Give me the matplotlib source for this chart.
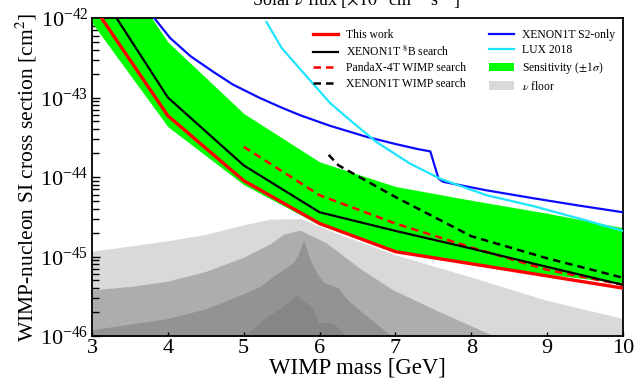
import numpy as np
import matplotlib
matplotlib.use("Agg")
import matplotlib.pyplot as plt
from matplotlib.lines import Line2D
from matplotlib.patches import Patch

plt.rcParams["font.family"] = ["Liberation Serif", "DejaVu Serif"]
plt.rcParams["mathtext.fontset"] = "stix"

# ---- data (mass in GeV, cross section in cm^2) ----
mass = [3, 4, 5, 6, 7, 8, 9, 10]
this_work = [1.5e-42, 5.9e-44, 9.0e-45, 2.6e-45, 1.15e-45, 8.1e-46, 5.7e-46, 4.0e-46]
xe1t_8b = [3.0e-42, 1.0e-43, 1.4e-44, 3.6e-45, 2.1e-45, 1.26e-45, 7.4e-46, 4.4e-46]
sens_lo = [8.7e-43, 4.3e-44, 8.0e-45, 2.5e-45, 1.15e-45, 8.3e-46, 6.0e-46, 4.6e-46]
sens_hi = [1.3e-41, 5.0e-43, 6.3e-44, 1.55e-44, 7.6e-45, 5.1e-45, 3.5e-45, 2.3e-45]

pandax_m = [5, 6, 7, 8, 9, 10]
pandax = [2.4e-44, 5.9e-45, 2.6e-45, 1.3e-45, 6.8e-46, 4.4e-46]

xe1t_wimp_m = [6.12, 6.25, 7, 8, 9, 10]
xe1t_wimp = [1.9e-44, 1.4e-44, 5.6e-45, 1.8e-45, 9.5e-46, 5.4e-46]

s2_m = [3.7, 3.82, 4.03, 4.3, 4.6, 4.86, 5.2, 5.48, 5.74, 6.14, 6.62, 7.0, 7.3,
        7.46, 7.52, 7.57, 7.63, 7.94, 8.2, 8.82, 9.4, 10.0]
s2 = [1.5e-42, 1.0e-42, 5.6e-43, 3.3e-43, 2.1e-43, 1.45e-43, 1.0e-43, 7.6e-44,
      6.0e-44, 4.4e-44, 3.2e-44, 2.6e-44, 2.24e-44, 2.1e-44, 1.35e-44, 9.5e-45,
      8.7e-45, 7.6e-45, 6.8e-45, 5.4e-45, 4.4e-45, 3.6e-45]

lux_m = [5.3, 5.5, 5.87, 6.14, 6.4, 6.75, 7.19, 7.59, 8.2, 8.82, 9.48, 10.0]
lux = [8.9e-43, 4.2e-43, 1.66e-43, 8.5e-44, 5.2e-44, 2.75e-44, 1.48e-44,
       9.5e-45, 5.9e-45, 4.3e-45, 2.9e-45, 2.1e-45]

# neutrino floor contours, lightest to darkest
floor1_m = [3, 3.5, 4, 4.5, 5, 5.35, 5.75, 6.2, 7, 8, 9, 10]
floor1 = [1.17e-45, 1.35e-45, 1.58e-45, 1.9e-45, 2.5e-45, 2.95e-45, 3.0e-45,
          2.0e-45, 1.05e-45, 5.5e-46, 2.8e-46, 1.66e-46]
floor2_m = [3, 3.5, 4, 4.5, 5, 5.35, 5.52, 5.74, 6.09, 6.53, 6.97, 7.59, 8.3]
floor2 = [3.8e-46, 4.2e-46, 4.9e-46, 6.5e-46, 9.8e-46, 1.45e-45, 1.9e-45,
          2.15e-45, 1.48e-45, 7.1e-46, 3.8e-46, 2.0e-46, 1.0e-46]
floor3_m = [3, 4, 4.5, 5, 5.21, 5.43, 5.65, 5.72, 5.79, 5.87, 5.96, 6.05, 6.25,
            6.36, 6.66, 6.95]
floor3 = [1.2e-46, 1.66e-46, 2.2e-46, 3.4e-46, 4.2e-46, 6.0e-46, 8.3e-46,
          1.07e-45, 1.62e-45, 9.3e-46, 6.3e-46, 4.8e-46, 4.0e-46, 2.9e-46,
          1.66e-46, 1.0e-46]
floor4_m = [5.0, 5.3, 5.52, 5.7, 5.92, 5.98, 6.18, 6.36]
floor4 = [1.0e-46, 1.74e-46, 2.35e-46, 3.3e-46, 2.15e-46, 1.5e-46, 1.45e-46, 1.0e-46]

floor_colors = ["#d9d9d9", "#adadad", "#939393", "#868686"]

fig = plt.figure(figsize=(6.34, 3.82), dpi=100)
ax = fig.add_axes([92 / 634, 1 - 336 / 382, 531 / 634, 318 / 382])

for (m, v), c in zip([(floor1_m, floor1), (floor2_m, floor2),
                      (floor3_m, floor3), (floor4_m, floor4)], floor_colors):
    ax.fill_between(m, v, 1e-48, color=c, lw=0, zorder=1)

ax.fill_between(mass, sens_lo, sens_hi, color="#00ff00", lw=0, zorder=2)

ax.plot(s2_m, s2, color="#0a0aff", lw=1.6, zorder=3)
ax.plot(lux_m, lux, color="#1ee4ff", lw=1.6, zorder=3)
ax.plot(xe1t_wimp_m, xe1t_wimp, color="k", lw=1.8, dashes=(3, 2), zorder=4)
ax.plot(pandax_m, pandax, color="#ff0000", lw=1.8, dashes=(3, 2), zorder=4)
ax.plot(mass, xe1t_8b, color="k", lw=1.6, zorder=5)
ax.plot(mass, this_work, color="#ff0000", lw=2.4, zorder=6)

ax.set_yscale("log")
ax.set_xlim(3, 10)
ax.set_ylim(1e-46, 1e-42)
ax.set_xticks(range(3, 11))
ax.tick_params(which="both", direction="in", top=False, right=False, labelsize=16)
ax.tick_params(axis="y", which="major", length=6, width=1, pad=2.5)
ax.tick_params(axis="y", which="minor", length=5, width=1)
ax.tick_params(axis="x", which="major", length=3, width=1, pad=2)
for s in ax.spines.values():
    s.set_linewidth(1.3)

ax.set_xlabel("WIMP mass [GeV]", fontsize=16.4, labelpad=0)
ax.set_ylabel(r"WIMP-nucleon SI cross section [cm$^2$]", fontsize=15.5, labelpad=1)
fig.text(356 / 634, 1 - 6.5 / 382, r"Solar $\nu$ flux [$\times10^{6}$ cm$^{-2}$ s$^{-1}$]",
         ha="center", va="baseline", fontsize=13)

handles = [
    Line2D([], [], color="#ff0000", lw=2.4),
    Line2D([], [], color="k", lw=1.6),
    Line2D([], [], color="#ff0000", lw=1.8, dashes=(3, 2)),
    Line2D([], [], color="k", lw=1.8, dashes=(3, 2)),
    Line2D([], [], color="#0a0aff", lw=1.6),
    Line2D([], [], color="#1ee4ff", lw=1.6),
    Patch(facecolor="#00ff00", lw=0),
    Patch(facecolor="#d9d9d9", lw=0),
]
labels = ["This work", r"XENON1T $^{8}$B search", "PandaX-4T WIMP search",
          "XENON1T WIMP search", "XENON1T S2-only", "LUX 2018",
          r"Sensitivity ($\pm1\sigma$)", r"$\nu$ floor"]
ax.legend(handles, labels, ncol=2, frameon=False, fontsize=8.4,
          loc="upper left", bbox_to_anchor=((313 - 92) / 531, 0.966),
          borderpad=0, borderaxespad=0, handlelength=2.1, handleheight=0.7,
          handletextpad=0.7, labelspacing=0.31, columnspacing=2.0)

fig.savefig("out.png", dpi=100)
